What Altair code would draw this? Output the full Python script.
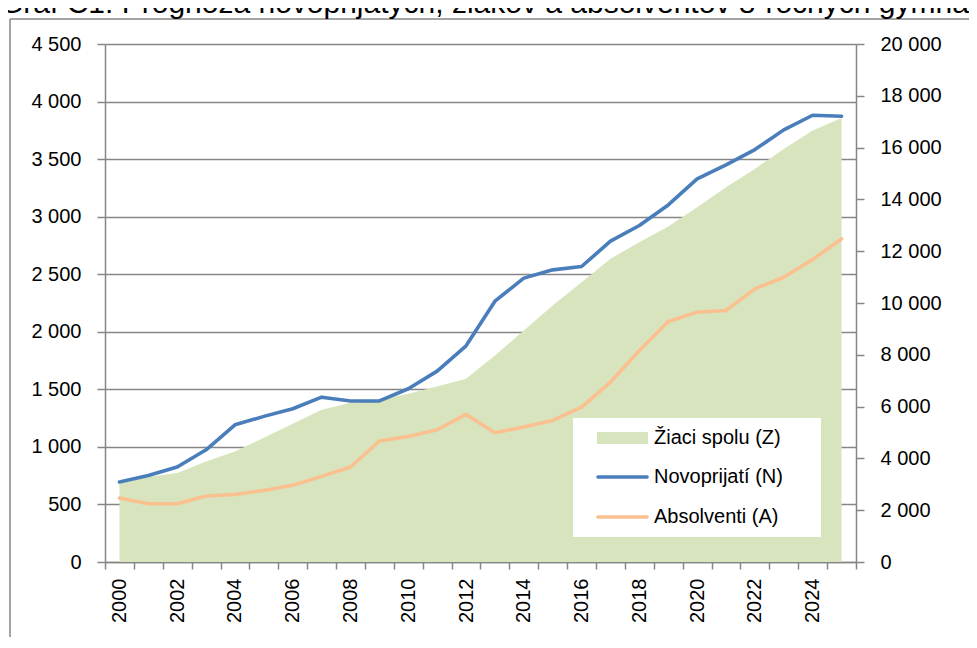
import altair as alt
import pandas as pd

# ---- data ----
years = list(range(2000, 2026))
novoprijati = [695, 752, 825, 975, 1192, 1265, 1331, 1432, 1398, 1400,
               1505, 1658, 1878, 2266, 2466, 2538, 2567, 2787, 2923, 3102,
               3328, 3450, 3583, 3754, 3881, 3872]
absolventi = [556, 506, 506, 573, 587, 622, 666, 744, 825, 1051,
              1091, 1149, 1282, 1123, 1172, 1230, 1346, 1563, 1838, 2089,
              2171, 2185, 2373, 2474, 2628, 2807]
ziaci = [3022, 3280, 3434, 3884, 4270, 4797, 5338, 5878, 6148, 6264,
         6496, 6778, 7074, 7975, 8940, 9904, 10804, 11705, 12348, 12953,
         13699, 14470, 15178, 15950, 16657, 17146]

series_names = ["Žiaci spolu (Z)", "Novoprijatí (N)", "Absolventi (A)"]
left_ticks = list(range(0, 4501, 500))
right_ticks = list(range(0, 20001, 2000))
title_text = "Graf C1: Prognóza novoprijatých, žiakov a absolventov 8-ročných gymnázií"

# ---- style ----
W, H = 751, 518
GRAY = "#868686"
FONT = "Liberation Sans"
GREEN = "#D7E4BD"
BLUE = "#4A7EBB"
ORANGE = "#FAC090"

df = pd.DataFrame({"rok": years, "N": novoprijati, "A": absolventi, "Z": ziaci})

space_fmt = ("datum.value >= 1000 ? floor(datum.value/1000) + ' ' + "
             "format(datum.value % 1000, '03d') : format(datum.value, 'd')")

x_enc = alt.X(
    "rok:O",
    bandPosition=0.5,
    scale=alt.Scale(type="band", paddingInner=0, paddingOuter=0),
    axis=alt.Axis(
        title=None, labelAngle=-90,
        labelExpr="datum.value % 2 == 0 ? datum.label : ''",
        labelOverlap=False,
        tickBand="extent", tickSize=7, tickColor=GRAY, tickWidth=1.5,
        domainColor=GRAY, domainWidth=1.5, grid=False,
        labelFont=FONT, labelFontSize=20, labelColor="black", labelPadding=9,
    ),
)

area = alt.Chart(df).mark_area(color=GREEN, opacity=1).encode(
    x=x_enc,
    y=alt.Y("Z:Q", scale=alt.Scale(domain=[0, 20000], nice=False),
            axis=alt.Axis(orient="right", values=right_ticks, title=None, grid=False,
                          tickSize=8, tickColor=GRAY, tickWidth=1.5,
                          domainColor=GRAY, domainWidth=1.5,
                          labelExpr=space_fmt, labelFont=FONT, labelFontSize=20,
                          labelColor="black", labelPadding=16)),
)

lines = alt.Chart(df).transform_fold(["N", "A"], as_=["serie", "hodnota"]).mark_line(
    strokeWidth=3.6, strokeCap="round", strokeJoin="round"
).encode(
    x=x_enc,
    y=alt.Y("hodnota:Q", scale=alt.Scale(domain=[0, 4500], nice=False),
            axis=alt.Axis(orient="left", values=left_ticks, title=None, grid=True,
                          gridColor=GRAY, gridWidth=1.5,
                          tickSize=8, tickColor=GRAY, tickWidth=1.5,
                          domainColor=GRAY, domainWidth=1.5,
                          labelExpr=space_fmt, labelFont=FONT, labelFontSize=20,
                          labelColor="black", labelPadding=16)),
    color=alt.Color("serie:N", scale=alt.Scale(domain=["N", "A"], range=[BLUE, ORANGE]),
                    legend=None),
    order=alt.Order("rok:O"),
)

one = alt.Data(values=[{}])

# chart-area border (Excel style) and the title, cut off at the top as in the reference
border_left = alt.Chart(one).mark_rule(color=GRAY, strokeWidth=1.5).encode(
    x=alt.value(-95), y=alt.value(-25), y2=alt.value(620))
border_top = alt.Chart(one).mark_rule(color=GRAY, strokeWidth=1.5).encode(
    x=alt.value(-95), x2=alt.value(900), y=alt.value(-25))
title = alt.Chart(one).mark_text(
    align="left", baseline="alphabetic", font=FONT, fontSize=30, color="black"
).encode(x=alt.value(-105), y=alt.value(-31), text=alt.value(title_text))

# manual legend box
leg_box = alt.Chart(one).mark_rect(color="white").encode(
    x=alt.value(468), x2=alt.value(716), y=alt.value(374), y2=alt.value(493))
leg_z = alt.Chart(one).mark_rect(color=GREEN).encode(
    x=alt.value(492), x2=alt.value(543), y=alt.value(388), y2=alt.value(400))
leg_n = alt.Chart(one).mark_rule(color=BLUE, strokeWidth=3.6, strokeCap="round").encode(
    x=alt.value(493), x2=alt.value(542), y=alt.value(433))
leg_a = alt.Chart(one).mark_rule(color=ORANGE, strokeWidth=3.6, strokeCap="round").encode(
    x=alt.value(493), x2=alt.value(542), y=alt.value(473))
leg_df = pd.DataFrame({"label": series_names, "ypix": [394, 433, 473]})
leg_text = alt.Chart(leg_df).mark_text(
    align="left", baseline="middle", font=FONT, fontSize=20, color="black"
).encode(x=alt.value(549), y=alt.Y("ypix:Q", scale=None), text="label:N")

chart = alt.layer(
    area, lines, border_left, border_top, title,
    leg_box, leg_z, leg_n, leg_a, leg_text
).resolve_scale(y="independent").properties(
    width=W, height=H,
    padding={"left": 97, "top": 36, "right": 113, "bottom": 75},
    autosize=alt.AutoSizeParams(type="none"),
).configure_view(stroke=None)

chart.save("out.html", embed_options={"renderer": "svg", "actions": False})
